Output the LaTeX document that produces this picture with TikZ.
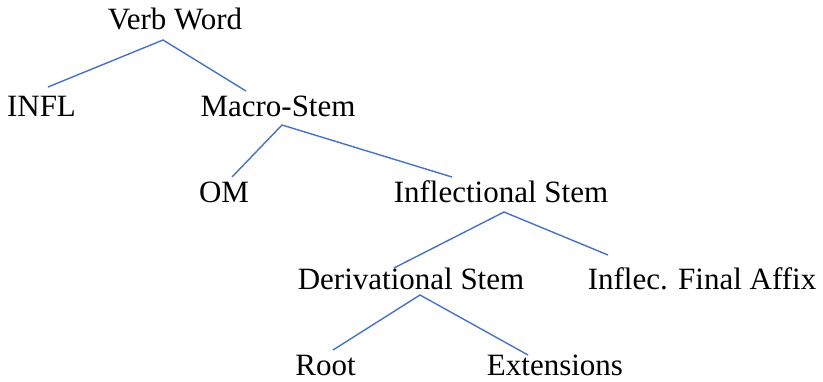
\documentclass[tikz,border=0pt]{standalone}
\usepackage{fontspec}
\setmainfont{Liberation Serif}
\usepackage{tikz}

\begin{document}
\begin{tikzpicture}[x=1pt,y=-1pt,
  word/.style={inner sep=0pt,anchor=base,font=\fontsize{31}{37}\selectfont},
  branch/.style={draw={rgb,255:red,68;green,114;blue,196},line width=1.4pt}]
\useasboundingbox (0,0) rectangle (823,382);

\node[name=Verb-Word,word] at (175,30) {Verb Word};
\node[name=INFL,word] at (41.5,117) {INFL};
\node[name=Macro-Stem,word] at (278,117) {Macro-Stem};
\node[name=OM,word] at (224,203) {OM};
\node[name=Inflectional-Stem,word] at (501,203) {Inflectional Stem};
\node[name=Derivational-Stem,word] at (411,290) {Derivational Stem};
\node[name=Final-Affix,word] at (702,290) {Inflec. Final Affix};
\node[name=Root,word] at (325.5,376) {Root};
\node[name=Extensions,word] at (555,376) {Extensions};

\draw[branch] ([shift={(6.5,-30)}]INFL.base) -- ([shift={(-12,10)}]Verb-Word.base) -- ([shift={(-32,-26)}]Macro-Stem.base);
\draw[branch] ([shift={(8,-26)}]OM.base) -- ([shift={(4,8)}]Macro-Stem.base) -- ([shift={(-49,-26)}]Inflectional-Stem.base);
\draw[branch] ([shift={(-17,-22)}]Derivational-Stem.base) -- ([shift={(3,9)}]Inflectional-Stem.base) -- ([shift={(-94,-35)}]Final-Affix.base);
\draw[branch] ([shift={(7.5,-26)}]Root.base) -- ([shift={(9,5)}]Derivational-Stem.base) -- ([shift={(-27,-21)}]Extensions.base);
\end{tikzpicture}
\end{document}
